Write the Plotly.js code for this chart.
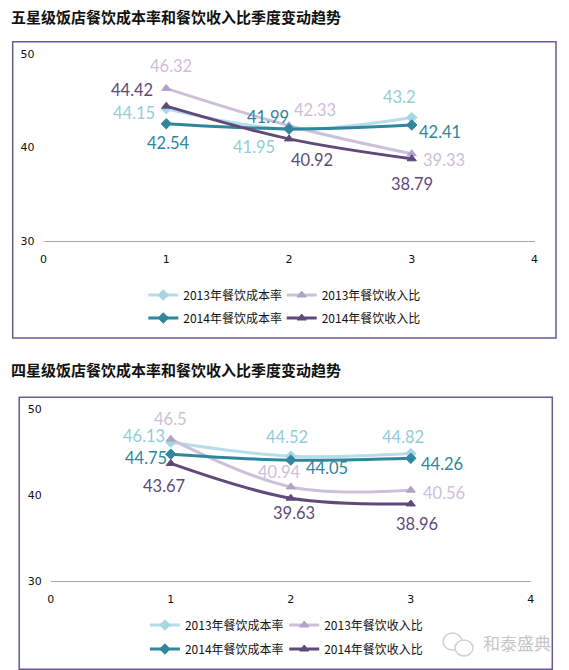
<!DOCTYPE html>
<html>
<head>
<meta charset="utf-8">
<script src="https://cdn.plot.ly/plotly-3.0.1.min.js"></script>
<style>
  html, body { margin: 0; padding: 0; background: #ffffff; }
  #chart { width: 569px; height: 670px; }
</style>
</head>
<body>
<div id="chart"></div>
<script>
// ---------- data ----------
const quarters = [1, 2, 3];
const xTickVals = [0, 1, 2, 3, 4];
const yTickVals = [30, 40, 50];
const seriesNames = ['2013年餐饮成本率', '2013年餐饮收入比', '2014年餐饮成本率', '2014年餐饮收入比'];
const chartTitles = ['五星级饭店餐饮成本率和餐饮收入比季度变动趋势', '四星级饭店餐饮成本率和餐饮收入比季度变动趋势'];

const fiveCost2013 = [44.15, 41.95, 43.2];
const fiveRev2013  = [46.32, 42.33, 39.33];
const fiveCost2014 = [42.54, 41.99, 42.41];
const fiveRev2014  = [44.42, 40.92, 38.79];

const fourCost2013 = [46.13, 44.52, 44.82];
const fourRev2013  = [46.5, 40.94, 40.56];
const fourCost2014 = [44.75, 44.05, 44.26];
const fourRev2014  = [43.67, 39.63, 38.96];

const watermarkText = '和泰盛典';

// ---------- styles ----------
const W = 569, H = 670;
const px = v => v / W;
const py = v => 1 - v / H;

const lineColors  = ['#b7dee8', '#ccc1da', '#31859c', '#604a7b'];
const markerColors = ['#a5d6e4', '#b3a2c7', '#31859c', '#5f497a'];
const labelColors = ['#92cddc', '#ccc0da', '#31859c', '#604a7b'];
const symbols = ['diamond', 'triangle-up', 'diamond', 'triangle-up'];

// label pixel offsets [dx, dy(down)] per series per point
const offsets1 = [
  [[-32, 4], [-35, 18], [-12, -21]],
  [[5, -22], [26, -16], [32, 6]],
  [[2, 19], [-21, -12], [28, 7]],
  [[-34, -16], [23, 21], [0, 25]]
];
const offsets2 = [
  [[-27, -6], [-4, -19], [-8, -17]],
  [[0, -20], [-11, -15], [33, 3]],
  [[-25, 4], [36, 8], [31, 6]],
  [[-7, 23], [3, 15], [6, 20]]
];

const chart1 = [fiveCost2013, fiveRev2013, fiveCost2014, fiveRev2014];
const chart2 = [fourCost2013, fourRev2013, fourCost2014, fourRev2014];

const traces = [];
const annotations = [];
const legends = {};

const legendPos = [
  [[148.3, 295], [286.7, 295], [148.3, 318], [286.7, 318]],
  [[149.9, 625], [289.2, 625], [149.9, 649], [289.2, 649]]
];

let legendIdx = 1;
[chart1, chart2].forEach((series, ci) => {
  const xa = ci === 0 ? 'x' : 'x2';
  const ya = ci === 0 ? 'y' : 'y2';
  const offs = ci === 0 ? offsets1 : offsets2;
  series.forEach((vals, si) => {
    const lname = legendIdx === 1 ? 'legend' : 'legend' + legendIdx;
    traces.push({
      type: 'scatter',
      mode: 'lines+markers',
      x: quarters,
      y: vals,
      xaxis: xa, yaxis: ya,
      name: seriesNames[si],
      legend: lname,
      line: { color: lineColors[si], width: 3, shape: 'spline', smoothing: 1 },
      marker: { symbol: symbols[si], size: 8, color: markerColors[si],
                line: { color: markerColors[si], width: 1 } },
      hoverinfo: 'x+y'
    });
    const lp = legendPos[ci][si];
    legends[lname] = {
      x: px(lp[0] - 5), y: py(lp[1]), xanchor: 'left', yanchor: 'middle',
      orientation: 'h', bgcolor: 'rgba(0,0,0,0)', borderwidth: 0,
      itemwidth: 30,
      font: { family: 'Noto Sans CJK SC', size: 12, color: '#111111' }
    };
    legendIdx++;
    vals.forEach((v, pi) => {
      annotations.push({
        x: quarters[pi], y: v, xref: xa, yref: ya,
        text: String(v), showarrow: false, borderpad: 0,
        xshift: offs[si][pi][0], yshift: -offs[si][pi][1],
        font: { family: 'Lato, Open Sans, sans-serif', size: 16.5, color: labelColors[si] }
      });
    });
  });
});

// chart titles
annotations.push({
  x: px(9), y: py(16), xref: 'paper', yref: 'paper', xanchor: 'left', yanchor: 'middle',
  text: '<b>' + chartTitles[0] + '</b>', showarrow: false,
  font: { family: 'Noto Sans CJK SC', size: 15, color: '#111111' }
});
annotations.push({
  x: px(9), y: py(369), xref: 'paper', yref: 'paper', xanchor: 'left', yanchor: 'middle',
  text: '<b>' + chartTitles[1] + '</b>', showarrow: false,
  font: { family: 'Noto Sans CJK SC', size: 15, color: '#111111' }
});
// watermark
annotations.push({
  x: px(481), y: py(642), xref: 'paper', yref: 'paper', xanchor: 'left', yanchor: 'middle',
  text: watermarkText, showarrow: false,
  font: { family: 'Noto Sans CJK SC', size: 17, color: '#c6c6c6' }
});

const shapes = [
  { type: 'rect', xref: 'paper', yref: 'paper', x0: px(12.7), x1: px(556), y0: py(338), y1: py(41.7),
    line: { color: '#6a5a92', width: 1.5 }, fillcolor: 'rgba(0,0,0,0)' },
  { type: 'rect', xref: 'paper', yref: 'paper', x0: px(19.2), x1: px(552.3), y0: py(669.3), y1: py(397.3),
    line: { color: '#6a5a92', width: 1.5 }, fillcolor: 'rgba(0,0,0,0)' },
  // watermark icon (two bubbles)
  { type: 'circle', xref: 'paper', yref: 'paper', x0: px(443), x1: px(462), y0: py(650), y1: py(633),
    line: { color: '#d0d0d0', width: 1.5 } },
  { type: 'circle', xref: 'paper', yref: 'paper', x0: px(455), x1: px(473), y0: py(656), y1: py(640),
    line: { color: '#d0d0d0', width: 1.5 }, fillcolor: '#ffffff' }
];

const axisFont = { family: 'DejaVu Sans', size: 11, color: '#111111' };
const xBase = {
  range: [0, 4], tickvals: xTickVals, ticktext: xTickVals.map(String),
  showgrid: false, zeroline: false, showline: true, linecolor: '#a6a6a6', linewidth: 1,
  ticks: '', tickfont: axisFont, ticklabelstandoff: 8, fixedrange: true
};
const yBase = {
  range: [30, 50], tickvals: yTickVals, ticktext: yTickVals.map(String),
  showgrid: false, zeroline: false, showline: false,
  ticks: '', tickfont: axisFont, ticklabelstandoff: 8, fixedrange: true
};

const layout = Object.assign({
  width: W, height: H,
  margin: { l: 0, r: 0, t: 0, b: 0 },
  paper_bgcolor: '#ffffff', plot_bgcolor: 'rgba(0,0,0,0)',
  showlegend: true,
  xaxis: Object.assign({}, xBase, { domain: [px(43.5), px(534.5)], anchor: 'y' }),
  yaxis: Object.assign({}, yBase, { domain: [py(241), py(54)], anchor: 'x' }),
  xaxis2: Object.assign({}, xBase, { domain: [px(50.8), px(530.8)], anchor: 'y2' }),
  yaxis2: Object.assign({}, yBase, { domain: [py(581), py(409)], anchor: 'x2' }),
  annotations: annotations,
  shapes: shapes
}, legends);

Plotly.newPlot('chart', traces, layout, { displayModeBar: false, staticPlot: true });
</script>
</body>
</html>
